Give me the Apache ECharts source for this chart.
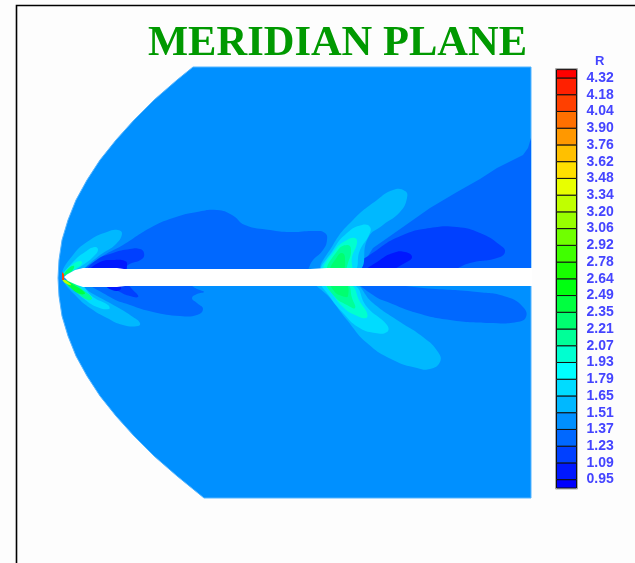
<!DOCTYPE html>
<html>
<head>
<meta charset="utf-8">
<style>html,body{margin:0;padding:0;background:#fdfdfd}#chart{width:635px;height:563px}</style>
<script src="https://cdn.jsdelivr.net/npm/echarts@6/dist/echarts.min.js"></script>
</head>
<body>
<div id="chart"></div>
<script>
// colour bar labels, low to high
var levels = ['0.95','1.09','1.23','1.37','1.51','1.65','1.79','1.93','2.07','2.21','2.35','2.49','2.64','2.78','2.92','3.06','3.20','3.34','3.48','3.62','3.76','3.90','4.04','4.18','4.32'];
var cellColors = ['#0000ff','#0018ff','#0040ff','#0068ff','#0090ff','#00b8ff','#00dcff','#00ffff','#00ffd0','#00ff98','#00ff70','#00ff40','#00ff10','#18ff00','#40ff00','#70ff00','#98ff00','#c0ff00','#e8ff00','#ffe000','#ffc000','#ff9800','#ff7000','#ff4000','#ff2000','#ff0000'];

// contour outlines, in picture units (x right, y down)
var domain = [[193,67],[177,80],[154,100],[134,120],[116,140],[100,160],[87,180],[76,200],[68,220],[62,240],[59,260],[58,278],[59,296],[62,316],[68,336],[76,356],[87,376],[100,396],[116,416],[134,436],[154,456],[177,476],[204,498],[531,498],[531,67]];
var body = [[64,277],[67,274.5],[75,270],[83,268],[117,268],[124,269],[310,269],[327,268],[532,268],[532,286],[320,286],[125,286],[117,287],[83,287],[77,285],[68,281]];

var noseDarkUp = [[85,272],[100,258],[123,245],[150,228],[173,218],[197,212],[217,210],[232,215],[245,225],[270,230],[290,232],[315,231],[325,233],[327,240],[323,250],[313,260],[303,272]];
var noseDarkUp2 = [[88,272],[95,261],[113,253],[130,249],[140,249],[144,253],[142,259],[128,265],[123,272]];
var noseDarkUp3 = [[90,272],[100,262],[115,260],[125,261],[127,264],[124,272]];
var noseDarkLow = [[88,280],[110,297],[130,305],[153,312],[180,316],[197,315],[203,309],[197,303],[192,298],[197,294],[204,292],[197,289],[183,282]];
var noseDarkLow2 = [[105,282],[120,292],[130,296],[138,297],[136,293],[122,282]];
var noseDarkLow3 = [[103,282],[116,282],[121,289],[112,290]];

var noseUp1 = [[63,274],[73,255],[90,240],[107,232],[118,230],[122,234],[115,245],[103,253],[90,263],[80,271]];
var noseUp2 = [[63,275],[73,262],[85,252],[95,247],[98,250],[93,257],[83,265],[73,271]];
var noseUp3 = [[63,275],[72,265],[80,261],[82,263],[77,268],[68,273]];
var noseUp4 = [[63,276],[69,268],[74,266],[72,271],[67,274]];
var noseLow1 = [[76,284],[95,295],[117,307],[133,317],[140,323],[138,326],[123,325],[107,318],[90,308],[77,297],[64,281]];
var noseLow2 = [[80,284],[93,297],[108,305],[109,309],[97,307],[83,298],[73,288],[64,281]];
var noseLow3 = [[72,282],[83,290],[92,298],[88,300],[76,292],[64,281]];
var noseLow4 = [[65,280],[74,285],[85,293],[80,294],[70,287]];
var noseLow5 = [[63,279],[68,282],[71,285],[67,284],[63,281]];
var noseTip = [[62,272],[64,274],[64,280],[62,280]];

var midDarkUp = [[358,272],[373,248],[403,227],[430,208],[457,192],[480,179],[497,168],[523,155],[528,148],[531,138],[531,272]];
var midDarkUp2 = [[352,272],[377,250],[403,235],[430,228],[457,227],[480,233],[500,245],[505,252],[497,258],[470,263],[445,272]];
var midDarkUp3 = [[365,272],[380,260],[393,253],[405,252],[412,257],[405,263],[385,272]];
var midDarkLow = [[360,282],[423,288],[477,292],[507,297],[523,307],[526,317],[517,322],[490,323],[450,320],[417,313],[390,303],[373,295]];
var midUp1 = [[322,272],[333,245],[353,220],[377,200],[393,190],[405,191],[407,198],[400,212],[383,225],[368,238],[358,272]];
var midUp2 = [[322,272],[333,250],[347,233],[362,225],[370,227],[369,235],[360,250],[353,272]];
var midUp3 = [[324,272],[335,250],[347,240],[355,238],[357,243],[352,257],[350,272]];
var midUp4 = [[327,272],[338,250],[347,245],[351,249],[348,263],[343,272]];
var midUp5 = [[330,272],[337,257],[342,253],[345,258],[342,272]];
var midLow1 = [[352,282],[373,303],[397,320],[423,337],[438,352],[440,362],[430,369],[417,368],[393,360],[367,343],[347,320],[330,298],[316,282]];
var midLow2 = [[322,282],[353,284],[367,307],[387,325],[387,332],[375,333],[358,327],[343,313],[330,297]];
var midLow3 = [[325,282],[350,284],[360,302],[367,313],[366,318],[355,315],[343,307],[332,293]];
var midLow4 = [[327,282],[347,284],[352,298],[355,308],[347,305],[335,297]];
var midLow5 = [[331,282],[345,282],[348,296],[342,296],[334,291]];

// R value of each filled outline, painted in this order
var contours = [
  {r:1.45, pts:domain, hard:true},
  {r:1.30, pts:noseDarkUp},
  {r:1.16, pts:noseDarkUp2},
  {r:1.02, pts:noseDarkUp3},
  {r:1.30, pts:noseDarkLow},
  {r:1.16, pts:noseDarkLow2},
  {r:1.02, pts:noseDarkLow3},
  {r:1.58, pts:noseUp1},
  {r:1.72, pts:noseUp2},
  {r:2.00, pts:noseUp3},
  {r:2.28, pts:noseUp4},
  {r:1.58, pts:noseLow1},
  {r:1.72, pts:noseLow2},
  {r:2.14, pts:noseLow3},
  {r:2.42, pts:noseLow4},
  {r:3.27, pts:noseLow5},
  {r:4.10, pts:noseTip, hard:true},
  {r:1.30, pts:midDarkUp, hard:true},
  {r:1.16, pts:midDarkUp2},
  {r:1.02, pts:midDarkUp3},
  {r:1.30, pts:midDarkLow},
  {r:1.58, pts:midUp1},
  {r:1.72, pts:midUp2},
  {r:2.00, pts:midUp3},
  {r:2.14, pts:midUp4},
  {r:2.28, pts:midUp5},
  {r:1.58, pts:midLow1},
  {r:1.72, pts:midLow2},
  {r:2.00, pts:midLow3},
  {r:2.14, pts:midLow4},
  {r:2.28, pts:midLow5}
];

function colorOf(r){
  var idx = 0;
  for(var i=0;i<levels.length;i++){
    if(parseFloat(levels[i]) <= r) idx = i+1;
  }
  return cellColors[idx];
}

var chart = echarts.init(document.getElementById('chart'));

var fieldSeries = {
  type:'custom',
  coordinateSystem:'cartesian2d',
  xAxisIndex:0,
  yAxisIndex:0,
  silent:true,
  animation:false,
  clip:false,
  data:contours.map(function(c,i){ return [c.pts[0][0],c.pts[0][1],i]; }).concat([[body[0][0],body[0][1],-1]]),
  encode:{x:0,y:1},
  renderItem:function(params,api){
    var i = api.value(2);
    var pts = i<0 ? body : contours[i].pts;
    return {
      type:'polygon',
      shape:{
        points:pts.map(function(p){ return api.coord(p); }),
        smooth:(i<0 || contours[i].hard) ? 0 : 0.5
      },
      style:{
        fill:i<0 ? '#ffffff' : colorOf(contours[i].r),
        stroke:i==0 ? '#55b5ff' : null,
        lineWidth:1
      }
    };
  }
};

var barSeries = {
  type:'custom',
  coordinateSystem:'cartesian2d',
  xAxisIndex:1,
  yAxisIndex:1,
  silent:true,
  animation:false,
  clip:false,
  data:cellColors.map(function(c,i){ return [0,i]; }),
  encode:{x:0,y:1},
  renderItem:function(params,api){
    var i = api.value(1);
    var band = api.size([0,1])[1];
    var left = api.coord([0,0])[0];
    var width = api.coord([1,0])[0]-left;
    var top, bottom;
    if(i==0){
      bottom = api.coord([0,0])[1]+band/2;
      top = api.coord([0,0])[1];
    }else if(i==levels.length){
      bottom = api.coord([0,levels.length-1])[1];
      top = bottom-band/2;
    }else{
      bottom = api.coord([0,i-1])[1];
      top = api.coord([0,i])[1];
    }
    return {
      type:'rect',
      shape:{x:left,y:top,width:width,height:bottom-top},
      style:{fill:cellColors[i],stroke:'#111111',lineWidth:1}
    };
  }
};

var option = {
  backgroundColor:'#fdfdfd',
  animation:false,
  title:[{
    text:'MERIDIAN PLANE',
    left:143,
    top:18,
    textStyle:{fontFamily:'Liberation Serif',fontWeight:'bold',fontSize:42.5,color:'#009900'}
  },{
    text:'R',
    left:590,
    top:50,
    textStyle:{fontFamily:'Liberation Sans',fontWeight:'bold',fontSize:13,color:'#4444ff'}
  }],
  grid:[
    {left:0,top:0,width:635,height:563,show:false},
    {left:556.5,top:69.6,width:20,height:418.4,show:false}
  ],
  xAxis:[
    {type:'value',gridIndex:0,min:0,max:635,show:false},
    {type:'value',gridIndex:1,min:0,max:1,show:false}
  ],
  yAxis:[
    {type:'value',gridIndex:0,min:0,max:563,inverse:true,show:false},
    {type:'category',gridIndex:1,position:'right',data:levels,min:0,max:24,
      axisLine:{show:false},axisTick:{show:false},splitLine:{show:false},
      axisLabel:{show:true,interval:0,margin:10,fontFamily:'Liberation Sans',fontWeight:'bold',fontSize:14,color:'#4444ff'}}
  ],
  graphic:[{
    type:'polyline',
    silent:true,
    shape:{points:[[16.5,563],[16.5,5.5],[635,5.5]]},
    style:{stroke:'#000000',lineWidth:1.6,fill:null}
  },{
    type:'rect',
    silent:true,
    shape:{x:555.5,y:68.5,width:22,height:420.5},
    style:{stroke:'#aaaaaa',lineWidth:1,fill:null}
  }],
  series:[fieldSeries,barSeries]
};
chart.setOption(option);
</script>
</body>
</html>
